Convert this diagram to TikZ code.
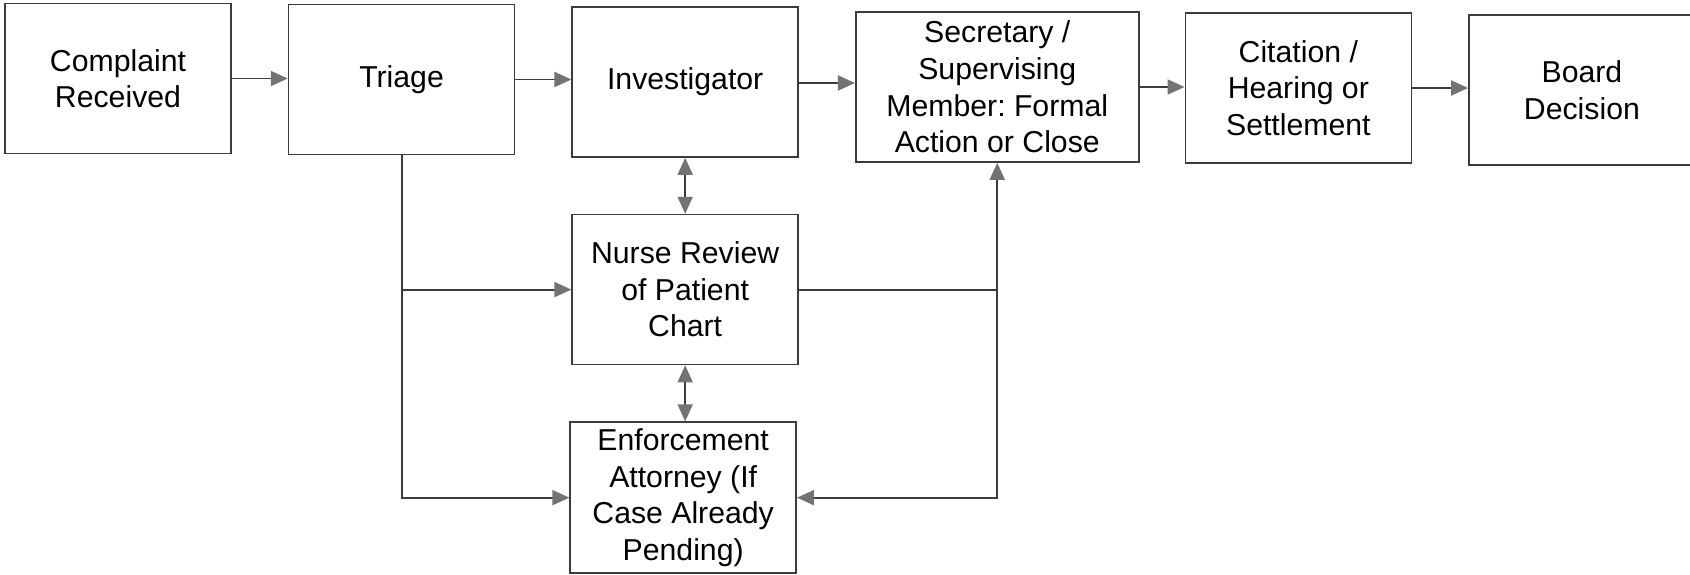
\documentclass[tikz,border=0pt]{standalone}
\usepackage{fontspec}
\setmainfont{Liberation Sans}
\usepackage{tikz}
\usetikzlibrary{arrows.meta, positioning}
\definecolor{edgegray}{HTML}{3C3C3C}
\definecolor{tipgray}{HTML}{737373}
\frenchspacing

\begin{document}
\begin{tikzpicture}[node distance=0.56cm and 0.56cm,
        every node/.style={font=\fontsize{8.6}{10.4}\selectfont},
        block/.style={rectangle, draw=edgegray, line width=0.45pt, minimum width=2.26cm, minimum height=1.5cm, align=center, inner sep=1pt},
        arr/.style={-{Triangle[length=1.7mm, width=1.5mm, color=tipgray]}, draw=edgegray, line width=0.55pt},
        dblarr/.style={{Triangle[length=1.7mm, width=1.5mm, color=tipgray]}-{Triangle[length=1.7mm, width=1.5mm, color=tipgray]}, draw=edgegray, line width=0.55pt}]
        \useasboundingbox (0,0) rectangle (16.9,-5.75);

        % main row
        \node[block] (complaint) at (1.18,-0.785) {Complaint\\Received};
        \node[block, right=of complaint, yshift=-0.01cm] (triage) {Triage};
        \node[block, right=of triage, yshift=-0.025cm] (invest) {Investigator};
        \node[block, right=of invest, yshift=-0.05cm, minimum width=2.83cm] (secretary) {Secretary /\\Supervising\\Member: Formal\\Action or Close};
        \node[block, right=0.45cm of secretary, yshift=-0.01cm] (citation) {Citation /\\Hearing or\\Settlement};
        \node[block, right=of citation, yshift=-0.02cm] (board) {Board\\Decision};

        % reviews
        \node[block, below=of invest] (nurse) {Nurse Review\\of Patient\\Chart};
        \node[block, below=of nurse, xshift=-0.02cm, minimum height=1.51cm] (attorney) {Enforcement\\Attorney (If\\Case Already\\Pending)};

        \draw[arr] (complaint.east) -- (complaint.east -| triage.west);
        \draw[arr] (triage.east) -- (triage.east -| invest.west);
        \draw[arr] ([yshift=-0.01cm]invest.east) -- ([yshift=-0.01cm]invest.east -| secretary.west);
        \draw[arr] (secretary.east) -- (secretary.east -| citation.west);
        \draw[arr] (citation.east) -- (citation.east -| board.west);
        \draw[dblarr] (invest.south) -- (nurse.north);
        \draw[dblarr] (nurse.south) -- (nurse.south |- attorney.north);
        \draw[arr] (triage.south) |- (attorney.west);
        \draw[arr] (triage.south |- nurse.west) -- (nurse.west);
        \draw[arr] (nurse.east) -| (secretary.south);
        \draw[arr] (secretary.south |- nurse.east) |- (attorney.east);
    \end{tikzpicture}
\end{document}
